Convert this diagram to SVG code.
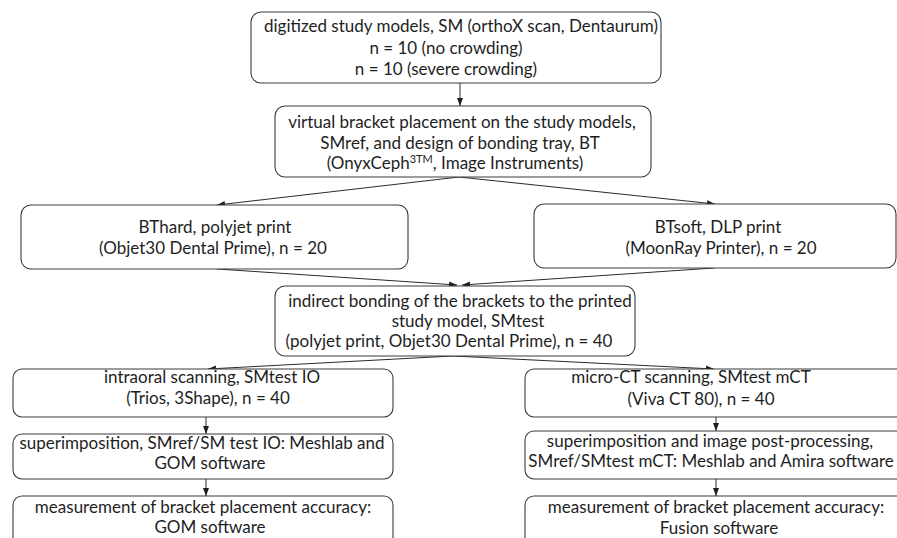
<svg xmlns="http://www.w3.org/2000/svg" width="897" height="538" viewBox="0 0 897 538">
<defs>
<style>
.box{fill:#ffffff;stroke:#3a3a3a;stroke-width:1.1}
.t{font-family:Lato,"Liberation Sans",Arial,sans-serif;font-size:17px;fill:#1e1e1e;text-anchor:middle}
.c{fill:none;stroke:#2a2a2a;stroke-width:1}
</style>
<marker id="ah" markerUnits="userSpaceOnUse" markerWidth="8" markerHeight="8" viewBox="0 0 8 8" refX="8" refY="4" orient="auto">
<path d="M0,1 L8,4 L0,7 Z" fill="#1e1e1e"/>
</marker>
</defs>
<rect width="897" height="538" fill="#ffffff"/>
<g id="connectors">
<line class="c" x1="460" y1="83" x2="460" y2="106" marker-end="url(#ah)"/>
<line class="c" x1="459" y1="177" x2="217" y2="205" marker-end="url(#ah)"/>
<line class="c" x1="459" y1="177" x2="715" y2="204" marker-end="url(#ah)"/>
<line class="c" x1="217" y1="269" x2="457" y2="285" marker-end="url(#ah)"/>
<line class="c" x1="714" y1="268" x2="462" y2="285" marker-end="url(#ah)"/>
<line class="c" x1="453" y1="356" x2="208" y2="369" marker-end="url(#ah)"/>
<line class="c" x1="453" y1="356" x2="714" y2="369" marker-end="url(#ah)"/>
<line class="c" x1="206" y1="417" x2="206" y2="434" marker-end="url(#ah)"/>
<line class="c" x1="206" y1="479" x2="206" y2="496" marker-end="url(#ah)"/>
<line class="c" x1="716" y1="417" x2="716" y2="431" marker-end="url(#ah)"/>
<line class="c" x1="716" y1="479" x2="716" y2="496" marker-end="url(#ah)"/>
</g>
<g id="n1">
<rect class="box" x="251" y="12" width="410" height="71" rx="10"/>
<text class="t" x="461" y="32">digitized study models, SM (orthoX scan, Dentaurum)</text>
<text class="t" x="446" y="54">n = 10 (no crowding)</text>
<text class="t" x="446" y="75">n = 10 (severe crowding)</text>
</g>
<g id="n2">
<rect class="box" x="275" y="106" width="376" height="71" rx="10"/>
<text class="t" x="462" y="128">virtual bracket placement on the study models,</text>
<text class="t" x="460" y="149">SMref, and design of bonding tray, BT</text>
<text class="t" x="455" y="169">(OnyxCeph<tspan font-size="11" dy="-6">3TM</tspan><tspan dy="6">, Image Instruments)</tspan></text>
</g>
<g id="n3">
<rect class="box" x="21" y="205" width="387" height="64" rx="10"/>
<text class="t" x="215" y="233">BThard, polyjet print</text>
<text class="t" x="213" y="254">(Objet30 Dental Prime), n = 20</text>
</g>
<g id="n4">
<rect class="box" x="534" y="204" width="362" height="64" rx="10"/>
<text class="t" x="718" y="233">BTsoft, DLP print</text>
<text class="t" x="721" y="254">(MoonRay Printer), n = 20</text>
</g>
<g id="n5">
<rect class="box" x="275" y="286" width="360" height="70" rx="10"/>
<text class="t" x="460" y="307">indirect bonding of the brackets to the printed</text>
<text class="t" x="468" y="327">study model, SMtest</text>
<text class="t" x="449" y="347">(polyjet print, Objet30 Dental Prime), n = 40</text>
</g>
<g id="n6">
<rect class="box" x="13" y="369" width="380" height="48" rx="9"/>
<text class="t" x="212" y="383">intraoral scanning, SMtest IO</text>
<text class="t" x="208" y="404">(Trios, 3Shape), n = 40</text>
</g>
<g id="n7">
<rect class="box" x="13" y="434" width="380" height="45" rx="9"/>
<text class="t" x="202" y="449">superimposition, SMref/SM test IO: Meshlab and</text>
<text class="t" x="210" y="469">GOM software</text>
</g>
<g id="n8">
<rect class="box" x="13" y="496" width="380" height="70" rx="9"/>
<text class="t" x="203" y="513">measurement of bracket placement accuracy:</text>
<text class="t" x="210" y="533">GOM software</text>
</g>
<g id="n9">
<rect class="box" x="525" y="369" width="390" height="48" rx="9"/>
<text class="t" x="691" y="383">micro-CT scanning, SMtest mCT</text>
<text class="t" x="701" y="405">(Viva CT 80), n = 40</text>
</g>
<g id="n10">
<rect class="box" x="525" y="431" width="390" height="48" rx="9"/>
<text class="t" x="710" y="447">superimposition and image post-processing,</text>
<text class="t" x="711" y="467">SMref/SMtest mCT: Meshlab and Amira software</text>
</g>
<g id="n11">
<rect class="box" x="525" y="496" width="390" height="70" rx="9"/>
<text class="t" x="716" y="513">measurement of bracket placement accuracy:</text>
<text class="t" x="719" y="534">Fusion software</text>
</g>
</svg>
